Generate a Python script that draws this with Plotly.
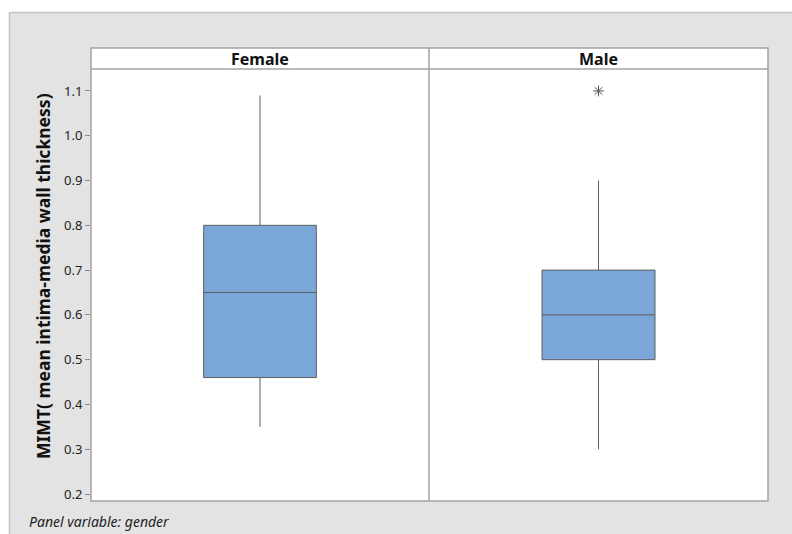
import plotly.graph_objects as go

# ---- data ----
panels = ["Female", "Male"]
q1 = [0.46, 0.50]
median = [0.65, 0.60]
q3 = [0.80, 0.70]
lower_whisker = [0.35, 0.30]
upper_whisker = [1.09, 0.90]
outlier_panel = ["Male"]
outlier_values = [1.10]
y_tick_vals = [0.2, 0.3, 0.4, 0.5, 0.6, 0.7, 0.8, 0.9, 1.0, 1.1]
y_tick_text = ["0.2", "0.3", "0.4", "0.5", "0.6", "0.7", "0.8", "0.9", "1.0", "1.1"]

W, H = 792, 534
ML, MR, MT, MB = 91, 24, 48, 33
PW, PH = W - ML - MR, H - MT - MB
def px(x): return (x - ML) / PW
def py(y): return (H - MB - y) / PH

split = px(429)
ytop = py(69)

fill = "#7BA6D8"
edge = "#5f5f5f"
frame = "#a3a3a3"

fig = go.Figure()
for i, name in enumerate(panels):
    ax = "x" if i == 0 else "x2"
    fig.add_trace(go.Box(
        x=[0], q1=[q1[i]], median=[median[i]], q3=[q3[i]],
        lowerfence=[lower_whisker[i]], upperfence=[upper_whisker[i]],
        width=1, fillcolor=fill, line=dict(color=edge, width=1),
        whiskerwidth=0, boxpoints=False, showlegend=False, name=name,
        xaxis=ax, yaxis="y" if i == 0 else "y2", hoverinfo="y"))

for name, v in zip(outlier_panel, outlier_values):
    i = panels.index(name)
    fig.add_trace(go.Scatter(
        x=[0], y=[v], mode="markers",
        marker=dict(symbol="asterisk-open", size=9, color="#555555",
                    line=dict(color="#555555", width=1)),
        xaxis="x" if i == 0 else "x2", yaxis="y" if i == 0 else "y2",
        showlegend=False))

yrange = [0.2 - (501 - 494) / 449, 1.1 + (91 - 69) / 449]

shapes = [
    # white strips at top and left of the figure
    dict(type="rect", xref="paper", yref="paper", x0=px(-5), x1=px(9), y0=py(H + 5), y1=py(-5),
         fillcolor="white", line=dict(width=0), layer="above"),
    dict(type="rect", xref="paper", yref="paper", x0=px(-5), x1=px(W + 5), y0=py(12), y1=py(-5),
         fillcolor="white", line=dict(width=0), layer="above"),
    dict(type="line", xref="paper", yref="paper", x0=px(9.5), x1=px(9.5), y0=py(H), y1=py(12.5),
         line=dict(color="#c4c4c4", width=1.5)),
    dict(type="line", xref="paper", yref="paper", x0=px(9.5), x1=px(W), y0=py(12.5), y1=py(12.5),
         line=dict(color="#c4c4c4", width=1.5)),
    # header strip background
    dict(type="rect", xref="paper", yref="paper", x0=0, x1=1, y0=ytop, y1=1,
         fillcolor="white", line=dict(width=0), layer="below"),
    # frame
    dict(type="rect", xref="paper", yref="paper", x0=0, x1=1, y0=0, y1=1,
         line=dict(color=frame, width=1.5)),
    dict(type="line", xref="paper", yref="paper", x0=0, x1=1, y0=ytop, y1=ytop,
         line=dict(color=frame, width=1.5)),
    dict(type="line", xref="paper", yref="paper", x0=split, x1=split, y0=0, y1=1,
         line=dict(color=frame, width=1.5)),
]

annotations = [
    dict(text="<b>Female</b>", xref="paper", yref="paper", x=split / 2, y=(ytop + 1) / 2,
         xanchor="center", yanchor="middle",
         showarrow=False, font=dict(size=16, color="#111", family="Noto Sans")),
    dict(text="<b>Male</b>", xref="paper", yref="paper", x=(split + 1) / 2, y=(ytop + 1) / 2,
         xanchor="center", yanchor="middle",
         showarrow=False, font=dict(size=16, color="#111", family="Noto Sans")),
    dict(text="<b>MIMT( mean intima-media wall thickness)</b>", xref="paper", yref="paper",
         x=px(43), y=py(276), textangle=-90, xanchor="center", yanchor="middle", showarrow=False,
         font=dict(size=17.5, color="#111", family="Noto Sans")),
    dict(text="<i>Panel variable: gender</i>", xref="paper", yref="paper",
         x=px(27), y=py(521), xanchor="left", yanchor="middle", showarrow=False,
         font=dict(size=14, color="#222", family="Noto Sans")),
]

axis_common = dict(range=[-1.5, 1.5], showticklabels=False, ticks="", showgrid=False,
                   zeroline=False, showline=False, fixedrange=True)
fig.update_layout(
    width=W, height=H,
    margin=dict(l=ML, r=MR, t=MT, b=MB),
    paper_bgcolor="#e3e3e3", plot_bgcolor="white",
    xaxis=dict(domain=[0, split], **axis_common),
    xaxis2=dict(domain=[split, 1], anchor="y2", **axis_common),
    yaxis=dict(domain=[0, ytop], range=yrange, tickvals=y_tick_vals, ticktext=y_tick_text,
               ticks="outside", ticklen=5, tickcolor="#8c8c8c", showgrid=False, zeroline=False,
               showline=False, tickfont=dict(size=13, color="#222", family="Noto Sans")),
    yaxis2=dict(domain=[0, ytop], range=yrange, anchor="x2", matches="y", showticklabels=False,
                ticks="", showgrid=False, zeroline=False, showline=False),
    shapes=shapes, annotations=annotations,
)

fig.write_html("out.html", config={"displayModeBar": False},
               post_script="document.body.style.margin='0';document.body.style.overflow='hidden';")
